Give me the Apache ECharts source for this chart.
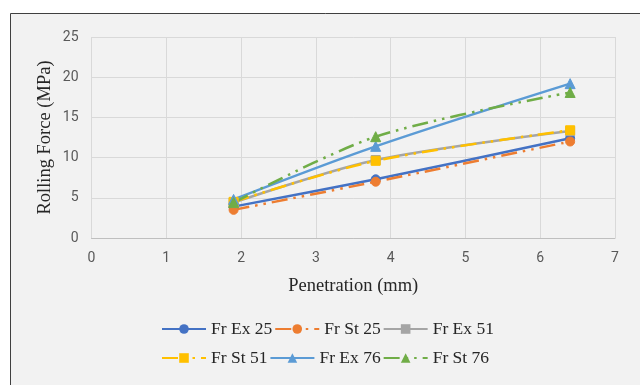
<!DOCTYPE html>
<html><head><meta charset="utf-8">
<script src="https://cdn.jsdelivr.net/npm/echarts@6/dist/echarts.min.js"></script>
<style>html,body{margin:0;padding:0;background:#fff}#c{width:640px;height:385px}</style>
</head><body><div id="c"></div>
<script>
var penetration = [1.9, 3.8, 6.4];
var frEx25 = [3.9, 7.3, 12.4];
var frSt25 = [3.5, 7.0, 12.0];
var frEx51 = [4.4, 9.7, 13.3];
var frSt51 = [4.5, 9.6, 13.4];
var frEx76 = [4.8, 11.4, 19.2];
var frSt76 = [4.4, 12.6, 18.1];
var seriesNames = ['Fr Ex 25', 'Fr St 25', 'Fr Ex 51', 'Fr St 51', 'Fr Ex 76', 'Fr St 76'];
var xTicks = [0, 1, 2, 3, 4, 5, 6, 7];
var yTicks = [0, 5, 10, 15, 20, 25];

var values = [frEx25, frSt25, frEx51, frSt51, frEx76, frSt76];
var colors = ['#4472C4', '#ED7D31', '#A5A5A5', '#FFC000', '#5B9BD5', '#70AD47'];
var symbols = ['circle', 'circle', 'rect', 'rect', 'triangle', 'triangle'];
var dashed = [false, true, false, true, false, true];
var dashPattern = [16, 6, 2.5, 6, 2.5, 6];

function pairs(v) { return penetration.map(function (x, i) { return [x, v[i]]; }); }

var series = values.map(function (v, i) {
  return {
    name: seriesNames[i], type: 'line', data: pairs(v), smooth: 0.3,
    symbol: symbols[i], symbolSize: symbols[i] === 'triangle' ? 10 : 9,
    itemStyle: { color: colors[i], borderColor: colors[i] },
    lineStyle: { color: colors[i], width: 2.5, type: dashed[i] ? dashPattern : 'solid', cap: 'butt' },
    emphasis: { disabled: true }
  };
});

var legendCommon = {
  itemWidth: 44, itemHeight: 12, itemGap: 2, padding: 0,
  textStyle: { fontFamily: 'Liberation Serif', fontSize: 17.5, color: '#262626', width: 62 }
};

var chart = echarts.init(document.getElementById('c'), null, { renderer: 'canvas' });
chart.setOption({
  backgroundColor: '#ffffff',
  animation: false,
  graphic: [{
    type: 'rect', z: -10, silent: true,
    shape: { x: 10.5, y: 13.5, width: 640, height: 400 },
    style: { fill: '#f2f2f2', stroke: '#404040', lineWidth: 1 }
  }],
  grid: { left: 91.5, right: 25, top: 37, bottom: 147 },
  xAxis: {
    type: 'value', min: xTicks[0], max: xTicks[xTicks.length - 1], interval: 1,
    name: 'Penetration (mm)', nameLocation: 'middle', nameGap: 39, nameMoveOverlap: false,
    nameTextStyle: { fontFamily: 'Liberation Serif', fontSize: 18.5, color: '#262626' },
    axisLine: { show: true, lineStyle: { color: '#bfbfbf', width: 1 } },
    axisTick: { show: false },
    axisLabel: { margin: 13, fontFamily: 'Roboto', fontSize: 14, color: '#595959' },
    splitLine: { show: true, lineStyle: { color: '#d9d9d9', width: 1 } }
  },
  yAxis: {
    type: 'value', min: yTicks[0], max: yTicks[yTicks.length - 1], interval: 5,
    name: 'Rolling Force (MPa)', nameLocation: 'middle', nameGap: 37, nameMoveOverlap: false,
    nameTextStyle: { fontFamily: 'Liberation Serif', fontSize: 18.5, color: '#262626' },
    axisLine: { show: false },
    axisTick: { show: false },
    axisLabel: { margin: 13, fontFamily: 'Roboto', fontSize: 14, color: '#595959' },
    splitLine: { show: true, lineStyle: { color: '#d9d9d9', width: 1 } }
  },
  legend: [
    Object.assign({}, legendCommon, { data: seriesNames.slice(0, 3), left: 161, top: 320 }),
    Object.assign({}, legendCommon, { data: seriesNames.slice(3, 6), left: 161, top: 349 })
  ],
  series: series
});
</script>
</body></html>
